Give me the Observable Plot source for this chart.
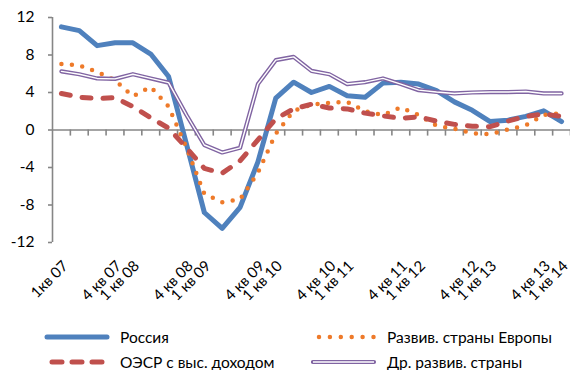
<!DOCTYPE html>
<html>
<head>
<meta charset="utf-8">
<script src="https://cdn.jsdelivr.net/npm/d3@7"></script>
<script src="https://cdn.jsdelivr.net/npm/@observablehq/plot@0.6"></script>
<style>
  body { margin: 0; background: #fff; }
  #wrap { position: relative; width: 570px; height: 370px; overflow: hidden; font-family: Lato, "Open Sans", sans-serif; color: #000; }
  #legend { position: absolute; left: 0; top: 315px; width: 570px; height: 55px; }
  .item { position: absolute; display: flex; align-items: center; height: 15px; line-height: 15px; font-size: 15.5px; white-space: nowrap; }
  .item svg { display: block; margin-right: 10px; }
</style>
</head>
<body>
<div id="wrap">
  <div id="chart"></div>
  <div id="legend"></div>
</div>
<script>
// Quarters, 1st quarter 2007 – 1st quarter 2014
const quarters = [
  "1кв 07", "2 кв 07", "3 кв 07", "4 кв 07",
  "1 кв 08", "2 кв 08", "3 кв 08", "4 кв 08",
  "1 кв 09", "2 кв 09", "3 кв 09", "4 кв 09",
  "1 кв 10", "2 кв 10", "3 кв 10", "4 кв 10",
  "1 кв 11", "2 кв 11", "3 кв 11", "4 кв 11",
  "1 кв 12", "2 кв 12", "3 кв 12", "4 кв 12",
  "1 кв 13", "2 кв 13", "3 кв 13", "4 кв 13",
  "1 кв 14"
];

// Quarters that carry a label on the category axis
const axisLabels = [
  "1кв 07", "4 кв 07", "1 кв 08", "4 кв 08", "1 кв 09", "4 кв 09", "1 кв 10",
  "4 кв 10", "1 кв 11", "4 кв 11", "1 кв 12", "4 кв 12", "1 кв 13", "4 кв 13", "1 кв 14"
];

const yTicks = [-12, -8, -4, 0, 4, 8, 12];

// Growth, % year on year
const russia = [11.0, 10.6, 9.0, 9.3, 9.3, 8.1, 5.7, -1.5, -8.8, -10.5, -8.25, -3.4, 3.4, 5.1, 4.0,
                4.65, 3.65, 3.5, 5.0, 5.1, 4.9, 4.2, 3.0, 2.1, 0.9, 1.05, 1.45, 2.05, 0.9];
const europe = [7.05, 6.9, 6.2, 5.3, 3.6, 4.6, 2.5, -1.9, -6.8, -7.7, -7.4, -4.55, -0.4, 2.05, 2.7,
                2.9, 3.0, 2.0, 1.6, 2.4, 1.6, 0.45, 0.15, -0.35, -0.45, 0.05, 0.5, 1.6, 1.8];
const oecd   = [3.9, 3.5, 3.35, 3.45, 2.5, 1.3, 0.2, -1.9, -4.1, -4.6, -3.3, -1.05, 1.2, 2.25, 2.75,
                2.35, 2.25, 1.8, 1.5, 1.25, 1.4, 0.95, 0.6, 0.4, 0.35, 0.95, 1.45, 1.7, 1.45];
const other  = [6.25, 5.95, 5.5, 5.45, 5.95, 5.5, 5.05, 1.6, -1.6, -2.4, -1.9, 4.9, 7.45, 7.8, 6.3,
                5.95, 4.9, 5.1, 5.5, 4.9, 4.25, 4.05, 3.9, 4.0, 4.05, 4.05, 4.1, 3.9, 3.9];

const seriesNames = ["Россия", "Развив. страны Европы", "ОЭСР с выс. доходом", "Др. развив. страны"];

const AXIS = "#868686";
const COLORS = { russia: "#4F81BD", europe: "#EE7A2A", oecd: "#C0504D", other: "#8064A2" };

const rows = values => values.map((v, i) => ({ i, v, q: quarters[i] }));
const tickPos = axisLabels.map(l => quarters.indexOf(l));
const boundaries = quarters.map((q, i) => i + 0.5);

const chart = Plot.plot({
  width: 570,
  height: 315,
  marginLeft: 52,
  marginRight: 0,
  marginTop: 17,
  marginBottom: 73,
  style: { fontFamily: 'Lato, "Open Sans", sans-serif', background: "#fff", color: "#000", overflow: "visible" },
  x: { type: "linear", domain: [-0.5, quarters.length - 0.5], label: null },
  y: { domain: [-12, 12], label: null },
  marks: [
    // zero line with category tick marks hanging below it
    Plot.ruleY([0], { stroke: AXIS, strokeWidth: 1.6 }),
    Plot.ruleX(boundaries, { y1: 0, y2: -0.65, stroke: AXIS, strokeWidth: 1.6 }),
    // value axis
    Plot.ruleX([-0.5], { y1: -12, y2: 12, stroke: AXIS, strokeWidth: 1.6 }),
    Plot.axisY({
      ticks: yTicks, tickSize: 4, tickPadding: 14, stroke: AXIS, strokeWidth: 1.6,
      fontSize: 15.5, fill: "#000", tickFormat: d => String(d), label: null
    }),
    Plot.axisX({
      ticks: tickPos, tickFormat: i => quarters[i], tickRotate: -45, tickSize: 0,
      tickPadding: 21, dx: 4, fontSize: 15, fill: "#000", label: null
    }),
    // series, in legend order
    Plot.line(rows(russia), { x: "i", y: "v", stroke: COLORS.russia, strokeWidth: 5, strokeLinejoin: "round", strokeLinecap: "round" }),
    Plot.line(rows(europe), { x: "i", y: "v", stroke: COLORS.europe, strokeWidth: 4.5, strokeDasharray: "0 10.5", strokeLinecap: "round", strokeLinejoin: "round" }),
    Plot.line(rows(oecd), { x: "i", y: "v", stroke: COLORS.oecd, strokeWidth: 5, strokeDasharray: "9 12", strokeLinecap: "round", strokeLinejoin: "round" }),
    Plot.line(rows(other), { x: "i", y: "v", stroke: COLORS.other, strokeWidth: 4.2, strokeLinejoin: "round" }),
    Plot.line(rows(other), { x: "i", y: "v", stroke: "#fff", strokeWidth: 1.4, strokeLinejoin: "round" })
  ]
});
document.getElementById("chart").append(chart);

// Legend: two columns, two rows
const NS = "http://www.w3.org/2000/svg";
function swatch(kind) {
  const svg = document.createElementNS(NS, "svg");
  svg.setAttribute("width", 66);
  svg.setAttribute("height", 10);
  const line = (stroke, w, extra = {}) => {
    const l = document.createElementNS(NS, "line");
    Object.entries({ x1: 3, x2: 63, y1: 5, y2: 5, stroke, "stroke-width": w, "stroke-linecap": "round", ...extra })
      .forEach(([k, v]) => l.setAttribute(k, v));
    svg.append(l);
  };
  if (kind === "russia") line(COLORS.russia, 5);
  if (kind === "europe") line(COLORS.europe, 4.5, { x1: 8, "stroke-dasharray": "0 10.9" });
  if (kind === "oecd") line(COLORS.oecd, 5, { x1: 8, x2: 61, "stroke-dasharray": "10 10" });
  if (kind === "other") { line(COLORS.other, 4.2, { x1: 2, "stroke-linecap": "round" }); line("#fff", 1.4, { x1: 2, "stroke-linecap": "butt" }); }
  return svg;
}
const legendItems = [
  { key: "russia", name: seriesNames[0], left: 44, top: 14.5 },
  { key: "europe", name: seriesNames[1], left: 311, top: 14.5 },
  { key: "oecd", name: seriesNames[2], left: 44, top: 39.5 },
  { key: "other", name: seriesNames[3], left: 311, top: 39.5 }
];
const legend = document.getElementById("legend");
for (const it of legendItems) {
  const div = document.createElement("div");
  div.className = "item";
  div.style.left = it.left + "px";
  div.style.top = it.top + "px";
  div.append(swatch(it.key));
  const span = document.createElement("span");
  span.textContent = it.name;
  div.append(span);
  legend.append(div);
}
</script>
</body>
</html>
